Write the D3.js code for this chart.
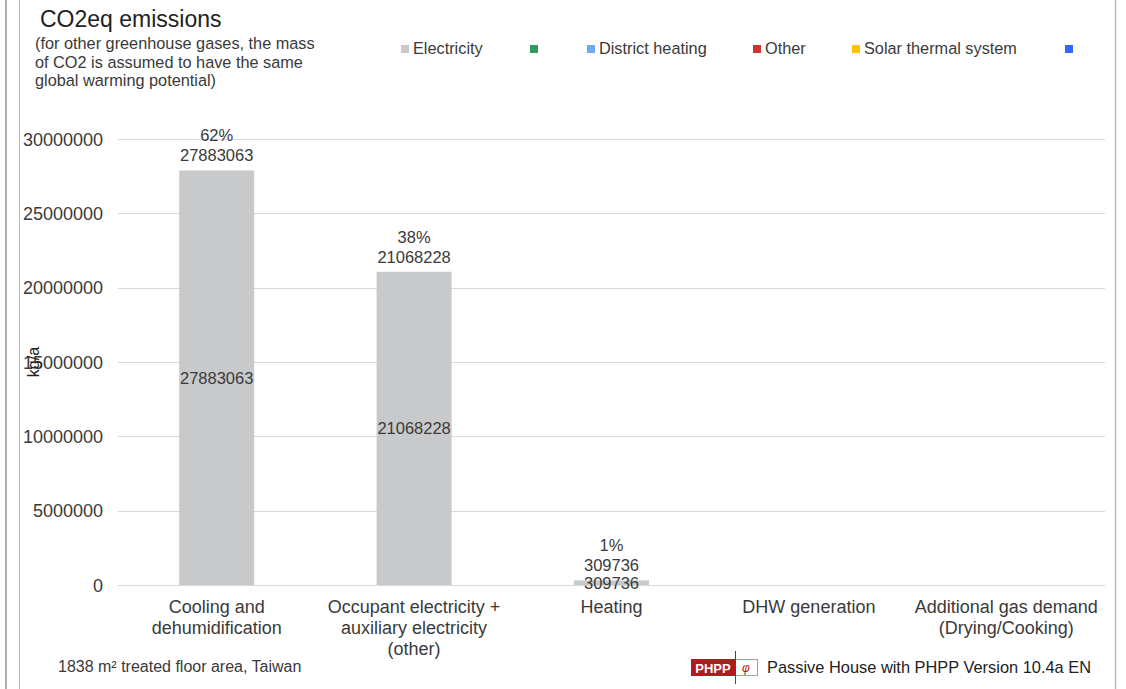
<!DOCTYPE html>
<html>
<head>
<meta charset="utf-8">
<script src="https://cdn.jsdelivr.net/npm/d3@7"></script>
<style>
  html, body { margin: 0; padding: 0; background: #fff; }
  svg { display: block; font-family: "Liberation Sans", Arial, sans-serif; }
</style>
</head>
<body>
<svg id="chart" width="1126" height="689"></svg>
<script>
// Categories and emission values (kg/a)
const categories = [
  ["Cooling and", "dehumidification"],
  ["Occupant electricity +", "auxiliary electricity", "(other)"],
  ["Heating"],
  ["DHW generation"],
  ["Additional gas demand", "(Drying/Cooking)"]
];
const electricity = [27883063, 21068228, 309736, null, null];
const shareLabels = ["62%", "38%", "1%", null, null];
const yTicks = [0, 5000000, 10000000, 15000000, 20000000, 25000000, 30000000];

const legendItems = [
  { label: "Electricity", color: "#c8c9cb" },
  { label: "", color: "#2e9a5e" },
  { label: "District heating", color: "#6fa8f0" },
  { label: "Other", color: "#d03434" },
  { label: "Solar thermal system", color: "#ffc000" },
  { label: "", color: "#3366ff" }
];
const legendX = [401, 530, 587, 753, 852, 1065];

const svg = d3.select("#chart");
const textColor = "#3a3a3a";

// Frame lines
svg.append("rect").attr("x", 5).attr("y", 0).attr("width", 2).attr("height", 689).attr("fill", "#b0b0b0");
svg.append("line").attr("x1", 19.5).attr("x2", 19.5).attr("y1", 0).attr("y2", 689).attr("stroke", "#b8b8b8");
svg.append("line").attr("x1", 1115.5).attr("x2", 1115.5).attr("y1", 0).attr("y2", 689).attr("stroke", "#b8b8b8").attr("stroke-width", 1.5);

// Scales
const x = d3.scaleBand().domain(d3.range(categories.length)).range([118, 1105]).paddingInner(0.62).paddingOuter(0.31);
const band = d3.scaleBand().domain(d3.range(categories.length)).range([118, 1105]);
const y = d3.scaleLinear().domain([0, 30000000]).range([585, 139]);

// Gridlines
svg.append("g").selectAll("line").data(yTicks).join("line")
  .attr("x1", 118).attr("x2", 1105)
  .attr("y1", d => Math.round(y(d)) + 0.5).attr("y2", d => Math.round(y(d)) + 0.5)
  .attr("stroke", "#d9d9d9").attr("stroke-width", 1);

// Y axis labels
const yAxis = d3.axisLeft(y).tickValues(yTicks).tickSize(0).tickPadding(0).tickFormat(d3.format("d"));
const yg = svg.append("g").attr("transform", "translate(103,0)").call(yAxis);
yg.select(".domain").remove();
yg.selectAll("text").attr("font-size", 18).attr("fill", textColor).attr("dy", "0.35em")
  .attr("font-family", "'Liberation Sans', Arial, sans-serif");

// Y axis title
svg.append("text").attr("transform", "translate(39,362) rotate(-90)")
  .attr("text-anchor", "middle").attr("font-size", 16).attr("fill", "#222").text("kg/a");

// Bars
const barData = electricity.map((v, i) => ({ i, v })).filter(d => d.v != null);
svg.append("g").selectAll("rect").data(barData).join("rect")
  .attr("x", d => x(d.i)).attr("width", x.bandwidth())
  .attr("y", d => y(d.v)).attr("height", d => y(0) - y(d.v))
  .attr("fill", "#c8c9cb");

// Value labels inside bars (centred)
svg.append("g").selectAll("text").data(barData).join("text")
  .attr("x", d => x(d.i) + x.bandwidth() / 2)
  .attr("y", d => (y(d.v) + y(0)) / 2 + 6)
  .attr("text-anchor", "middle").attr("font-size", 16.5).attr("fill", textColor)
  .text(d => d.v);

// Total and share labels above bars
const topLabels = svg.append("g");
barData.forEach(d => {
  const cx = x(d.i) + x.bandwidth() / 2;
  topLabels.append("text").attr("x", cx).attr("y", y(d.v) - 9)
    .attr("text-anchor", "middle").attr("font-size", 16.5).attr("fill", textColor).text(d.v);
  topLabels.append("text").attr("x", cx).attr("y", y(d.v) - 29)
    .attr("text-anchor", "middle").attr("font-size", 16.5).attr("fill", textColor).text(shareLabels[d.i]);
});

// Category labels
const xg = svg.append("g");
categories.forEach((lines, i) => {
  const cx = band(i) + band.bandwidth() / 2;
  const t = xg.append("text").attr("x", cx).attr("y", 613)
    .attr("text-anchor", "middle").attr("font-size", 18).attr("fill", textColor);
  lines.forEach((ln, k) => t.append("tspan").attr("x", cx)
    .attr("dy", k === 0 ? 0 : 21).text(ln));
});

// Title and subtitle
svg.append("text").attr("x", 40).attr("y", 27).attr("font-size", 23).attr("fill", "#222").text("CO2eq emissions");
const sub = ["(for other greenhouse gases, the mass", "of CO2 is assumed to have the same", "global warming potential)"];
sub.forEach((s, k) => svg.append("text").attr("x", 35).attr("y", 49 + k * 18.5)
  .attr("font-size", 16.3).attr("fill", textColor).text(s));

// Legend
const lg = svg.append("g");
legendItems.forEach((d, i) => {
  lg.append("rect").attr("x", legendX[i]).attr("y", 45).attr("width", 8).attr("height", 8).attr("fill", d.color);
  if (d.label) lg.append("text").attr("x", legendX[i] + 12).attr("y", 54)
    .attr("font-size", 16.3).attr("fill", textColor).text(d.label);
});

// Footer
svg.append("text").attr("x", 58).attr("y", 672).attr("font-size", 16).attr("fill", textColor)
  .text("1838 m² treated floor area, Taiwan");
const logo = svg.append("g");
logo.append("rect").attr("x", 691).attr("y", 659).attr("width", 44).attr("height", 17).attr("fill", "#b3191d");
logo.append("text").attr("x", 713).attr("y", 672.5).attr("text-anchor", "middle").attr("font-size", 13)
  .attr("font-weight", "bold").attr("fill", "#fff").text("PHPP");
logo.append("rect").attr("x", 735.5).attr("y", 659.5).attr("width", 22).attr("height", 16)
  .attr("fill", "#fff").attr("stroke", "#d88").attr("stroke-width", 1);
logo.append("line").attr("x1", 735.5).attr("x2", 735.5).attr("y1", 651).attr("y2", 684).attr("stroke", "#b3191d");
logo.append("text").attr("x", 746).attr("y", 672).attr("text-anchor", "middle").attr("font-size", 12)
  .attr("font-style", "italic").attr("fill", "#b3191d").text("φ");
svg.append("text").attr("x", 767).attr("y", 673).attr("font-size", 16.4).attr("fill", "#222")
  .text("Passive House with PHPP Version 10.4a EN");
</script>
</body>
</html>
